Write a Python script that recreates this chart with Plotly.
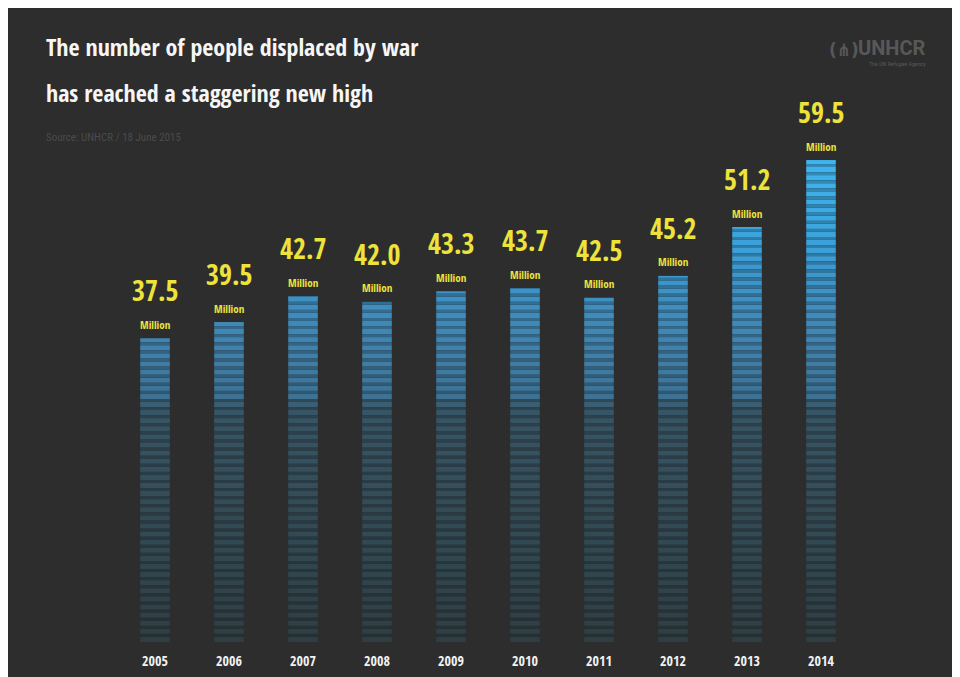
import plotly.graph_objects as go

years = ["2005", "2006", "2007", "2008", "2009", "2010", "2011", "2012", "2013", "2014"]
values = [37.5, 39.5, 42.7, 42.0, 43.3, 43.7, 42.5, 45.2, 51.2, 59.5]
value_labels = ["37.5", "39.5", "42.7", "42.0", "43.3", "43.7", "42.5", "45.2", "51.2", "59.5"]

# figure is drawn inside the page's 8px body margin
OFF = 8
W, H = 950, 669
BG = "#2d2d2d"
YELLOW = "#ede33b"
COND = "Open Sans Condensed, Roboto Condensed, sans-serif"
RCOND = "Roboto Condensed, sans-serif"


def px(sx):
    return (sx - OFF) / W


def py(sy):
    return 1 - (sy - OFF) / H


# colour stops along the value axis (style only)
stops = [(0, (47, 62, 67)), (29, (56, 86, 102)), (30.5, (62, 114, 148)),
         (38, (66, 134, 178)), (45, (61, 150, 204)), (52, (60, 168, 226)), (60, (64, 182, 240))]


def colour_at(level, k=1.0):
    for (a, ca), (b, cb) in zip(stops[:-1], stops[1:]):
        if level <= b:
            t = (level - a) / (b - a)
            c = [ca[i] + (cb[i] - ca[i]) * max(0, min(1, t)) for i in range(3)]
            break
    else:
        c = stops[-1][1]
    return "rgb(%d,%d,%d)" % tuple(int(v * k) for v in c)


LIGHT = 0.64  # share of each 1-million stripe drawn light
lx, lb, ly, lc = [], [], [], []
dx, db, dy, dc = [], [], [], []
for yr, v in zip(years, values):
    k = 0
    while k < v:
        h1 = min(LIGHT, v - k)
        lx.append(yr); lb.append(k); ly.append(h1); lc.append(colour_at(k + 0.5))
        rest = v - k - LIGHT
        if rest > 0:
            h2 = min(1 - LIGHT, rest)
            dx.append(yr); db.append(k + LIGHT); dy.append(h2); dc.append(colour_at(k + 0.5, 0.78))
        k += 1

fig = go.Figure()
fig.add_trace(go.Bar(x=lx, y=ly, base=lb, marker=dict(color=lc, line=dict(width=0)),
                     hoverinfo="skip", showlegend=False))
fig.add_trace(go.Bar(x=dx, y=dy, base=db, marker=dict(color=dc, line=dict(width=0)),
                     hoverinfo="skip", showlegend=False))

ann = []
for i, (v, lab) in enumerate(zip(values, value_labels)):
    ann.append(dict(x=i, y=v, xref="x", yref="y", text="<b>%s</b>" % lab, showarrow=False,
                    yanchor="middle", yshift=48, font=dict(family=COND, size=28, color=YELLOW)))
    ann.append(dict(x=i, y=v, xref="x", yref="y", text="<b>Million</b>", showarrow=False,
                    yanchor="middle", yshift=14, font=dict(family=COND, size=11, color=YELLOW)))

ann.append(dict(x=px(44), y=py(47), xref="paper", yref="paper", xanchor="left", yanchor="middle",
                text="<b>The number of people displaced by war</b>", showarrow=False,
                font=dict(family=COND, size=24, color="#f6f6f6")))
ann.append(dict(x=px(44), y=py(92), xref="paper", yref="paper", xanchor="left", yanchor="middle",
                text="<b>has reached a staggering new high</b>", showarrow=False,
                font=dict(family=COND, size=24, color="#f6f6f6")))
ann.append(dict(x=px(44), y=py(137), xref="paper", yref="paper", xanchor="left", yanchor="middle",
                text="Source: UNHCR / 18 June 2015", showarrow=False,
                font=dict(family=RCOND, size=11, color="#4b4b4b")))
ann.append(dict(x=px(928), y=py(48), xref="paper", yref="paper", xanchor="right", yanchor="middle",
                text="<b>UNHCR</b>", showarrow=False,
                font=dict(family="Roboto", size=20, color="#585858")))
ann.append(dict(x=px(861), y=py(50), xref="paper", yref="paper", xanchor="right", yanchor="middle",
                text="<b>(⋔)</b>", showarrow=False,
                font=dict(family="DejaVu Sans", size=17, color="#585858")))
ann.append(dict(x=px(928), y=py(64), xref="paper", yref="paper", xanchor="right", yanchor="middle",
                text="The UN Refugee Agency", showarrow=False,
                font=dict(family=RCOND, size=6, color="#585858")))

y_bottom = 642
px_per = 8.1
y_top = y_bottom - 70 * px_per

fig.update_layout(
    width=W, height=H,
    margin=dict(l=0, r=0, t=0, b=0),
    paper_bgcolor=BG, plot_bgcolor=BG,
    barmode="overlay", bargap=0.6,
    annotations=ann,
    xaxis=dict(domain=[px(118), px(858)], type="category", categoryorder="array", categoryarray=years,
               range=[-0.5, 9.5], showgrid=False, zeroline=False, showline=False, ticks="",
               tickmode="array", tickvals=years, ticktext=["<b>%s</b>" % y for y in years],
               tickfont=dict(family=COND, size=14, color="#f2f2f2"), ticklabelstandoff=9,
               fixedrange=True),
    yaxis=dict(domain=[py(y_bottom), py(y_top)], range=[0, 70], visible=False, fixedrange=True),
    font=dict(family=COND),
)

fig.write_html("out.html")
